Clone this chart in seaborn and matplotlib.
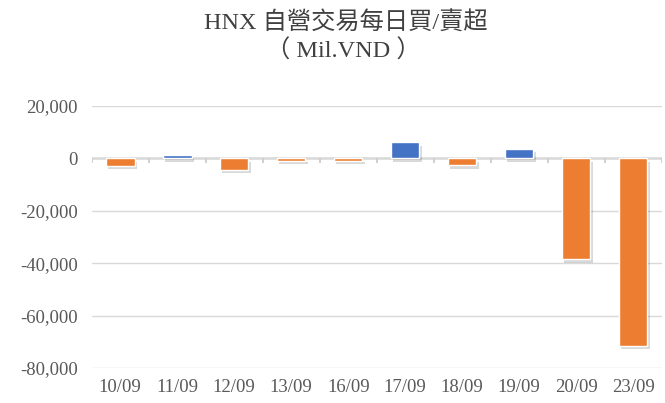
import matplotlib
matplotlib.use("Agg")
import matplotlib.pyplot as plt
import matplotlib.patheffects as pe
import seaborn as sns
import numpy as np
from pandas import DataFrame

# data
dates = ['10/09', '11/09', '12/09', '13/09', '16/09', '17/09', '18/09', '19/09', '20/09', '23/09']
net_value = [-2900, 1300, -4300, -1000, -1000, 6100, -2600, 3700, -38500, -71600]

df = DataFrame({'date': dates, 'value': net_value})
df['side'] = np.where(df['value'] >= 0, 'buy', 'sell')

sns.set_style('white')
plt.rcParams['font.family'] = ['Liberation Serif', 'Noto Sans CJK TC', 'DejaVu Sans']

fig = plt.figure(figsize=(6.65, 4.03), dpi=100)
ax = fig.add_axes([0.138, 0.087, 0.857, 0.650])

plot = sns.barplot(data=df, x='date', y='value', hue='side',
                   palette={'buy': '#4472C4', 'sell': '#ED7D31'}, saturation=1,
                   dodge=False, width=0.5, legend=False, ax=ax, zorder=3)

# soft shadow under bars
for p in ax.patches:
    p.set_path_effects([pe.SimplePatchShadow(offset=(1.5, -2.5), alpha=0.15, shadow_rgbFace='#000000'),
                        pe.Normal()])

ax.set_ylim(-80000, 20000)
ax.set_yticks(range(-80000, 20001, 20000))
ax.set_yticklabels([f'{v:,}' for v in range(-80000, 20001, 20000)])
ax.set_xlim(-0.5, len(dates) - 0.5)
ax.set_xlabel('')
ax.set_ylabel('')

ax.grid(axis='y', color='#d9d9d9', linewidth=1, zorder=0)
ax.axhline(0, color='#d9d9d9', linewidth=1.8, zorder=2)
# category separator ticks on the zero line
ax.vlines(np.arange(-0.5, len(dates), 1.0), 0, -1900, color='#cfcfcf', linewidth=1.4, zorder=2)
for s in ax.spines.values():
    s.set_visible(False)

ax.tick_params(axis='both', length=0, labelsize=13.5, colors='#595959')
ax.tick_params(axis='x', pad=8)
ax.tick_params(axis='y', pad=10)

fig.text(0.52, 0.945, 'HNX 自營交易每日買/賣超', ha='center', va='center',
         fontsize=17.5, color='#404040')
fig.text(0.516, 0.872, '（ Mil.VND ）', ha='center', va='center',
         fontsize=17.5, color='#404040')

fig.savefig('out.png', dpi=100)
